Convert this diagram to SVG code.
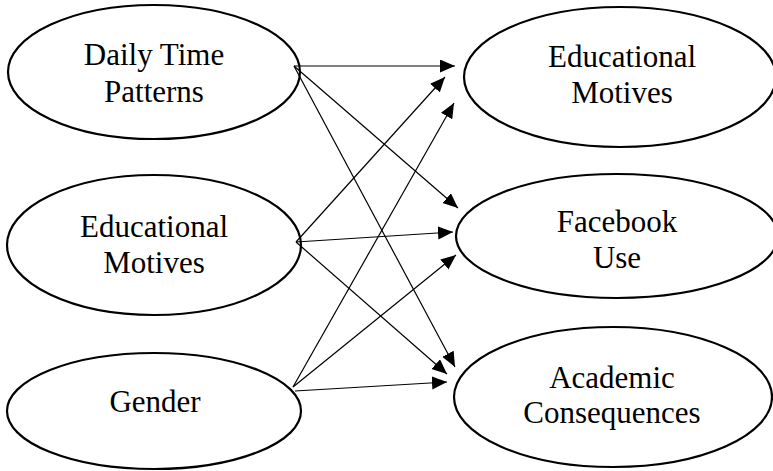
<svg xmlns="http://www.w3.org/2000/svg" width="773" height="471" viewBox="0 0 773 471">
  <style>
    .node ellipse { fill: #ffffff; stroke: #000000; stroke-width: 2.2; }
    .node text { font-family: "Liberation Serif", "Times New Roman", Times, serif; font-size: 31px; fill: #000000; text-anchor: middle; }
    .edges line { stroke: #000000; stroke-width: 1.2; marker-end: url(#head); }
  </style>
  <defs>
    <marker id="head" markerUnits="userSpaceOnUse" markerWidth="16" markerHeight="14" refX="15" refY="6.5" orient="auto">
      <path d="M0,0 L15,6.5 L0,13 Z" fill="#000000"/>
    </marker>
  </defs>

  <!-- predictors (left column) -->
  <g id="daily-time-patterns" class="node">
    <ellipse cx="154" cy="72" rx="146" ry="67"/>
    <text x="154" y="65">Daily Time</text>
    <text x="154" y="102">Patterns</text>
  </g>
  <g id="educational-motives-in" class="node">
    <ellipse cx="154" cy="245" rx="147" ry="70"/>
    <text x="154" y="237">Educational</text>
    <text x="154" y="273">Motives</text>
  </g>
  <g id="gender" class="node">
    <ellipse cx="154" cy="411" rx="147" ry="58"/>
    <text x="155" y="412">Gender</text>
  </g>

  <!-- outcomes (right column) -->
  <g id="educational-motives-out" class="node">
    <ellipse cx="620" cy="77" rx="156" ry="70"/>
    <text x="622" y="67">Educational</text>
    <text x="622" y="103">Motives</text>
  </g>
  <g id="facebook-use" class="node">
    <ellipse cx="617" cy="236" rx="161" ry="62"/>
    <text x="617" y="232">Facebook</text>
    <text x="617" y="268">Use</text>
  </g>
  <g id="academic-consequences" class="node">
    <ellipse cx="613" cy="397" rx="159" ry="70"/>
    <text x="612" y="388">Academic</text>
    <text x="612" y="423">Consequences</text>
  </g>

  <!-- paths between constructs -->
  <g id="edges" class="edges">
    <line x1="294" y1="66" x2="455" y2="66"/>
    <line x1="294" y1="66" x2="458" y2="208"/>
    <line x1="294" y1="66" x2="455" y2="367"/>
    <line x1="296" y1="242" x2="445" y2="77"/>
    <line x1="296" y1="242" x2="453" y2="232"/>
    <line x1="296" y1="242" x2="447" y2="374"/>
    <line x1="293" y1="387" x2="454" y2="103"/>
    <line x1="293" y1="387" x2="456" y2="255"/>
    <line x1="295" y1="391" x2="447" y2="382"/>
  </g>
</svg>
